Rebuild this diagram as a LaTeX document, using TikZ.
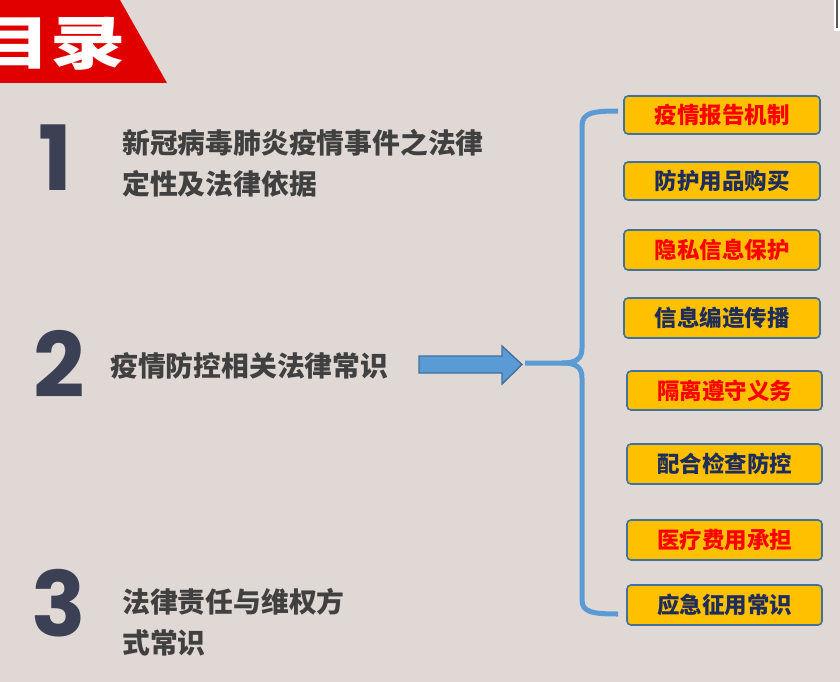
\documentclass[tikz,border=0pt]{standalone}
\usepackage{fontspec}
\setmainfont{Liberation Sans}
\newfontfamily\cjksans{Noto Sans CJK SC}
\newfontfamily\numfont{Poppins}
\definecolor{bgc}{HTML}{DFD8D5}
\definecolor{bannerred}{HTML}{E00000}
\definecolor{numc}{HTML}{3C4055}
\definecolor{txtc}{HTML}{404040}
\definecolor{boxfill}{HTML}{FFC000}
\definecolor{boxline}{HTML}{41719C}
\definecolor{bluec}{HTML}{5B9BD5}
\definecolor{navyc}{HTML}{1F2D5A}
\definecolor{redc}{HTML}{FF0000}
\tikzset{
  bignum/.style={inner sep=0pt, text=numc, font=\numfont\bfseries\fontsize{90}{90}\selectfont},
  headtxt/.style={inner sep=0pt, anchor=base west, text=txtc, font=\cjksans\bfseries\fontsize{27.8}{40}\selectfont},
  itembox/.style={draw=boxline, line width=1.6pt, fill=boxfill, rounded corners=4pt, minimum width=196pt, inner sep=0pt, font=\cjksans\bfseries\fontsize{22.5}{24}\selectfont},
  redtxt/.style={text=redc},
  navytxt/.style={text=navyc}
}
\begin{document}
\begin{tikzpicture}[x=1pt,y=-1pt]
\useasboundingbox (0,0) rectangle (840,682);
\fill[bgc] (0,0) rectangle (840,682);
% small artefact top right
\fill[white] (834,0) rectangle (840,31);
\fill[gray!70!black] (836,0) rectangle (837.5,28);
% title banner
\fill[bannerred] (0,0) -- (120,0) -- (167,83) -- (0,83) -- cycle;
\begin{scope}
\clip (0,0) -- (120,0) -- (167,83) -- (0,83) -- cycle;
\node[inner sep=0pt, text=white, font=\cjksans\bfseries\fontsize{58}{58}\selectfont, xscale=1.3] (title) at (51,44) {目录};
\end{scope}
% numbers
\node[bignum] (n1) at (55,158) {1};
\node[bignum] (n2) at (59,364) {2};
\node[bignum] (n3) at (59,603) {3};
% headings
\node[headtxt] (t1a) at (122,153.5) {新冠病毒肺炎疫情事件之法律};
\node[headtxt] (t1b) at (122,194) {定性及法律依据};
\node[headtxt] (t2) at (110,376) {疫情防控相关法律常识};
\node[headtxt] (t3a) at (122,612) {法律责任与维权方};
\node[headtxt] (t3b) at (122,653) {式常识};
% block arrow
\filldraw[fill=bluec, draw=boxline, line width=1.4pt, line join=miter]
  (419,356) -- (502,356) -- (502,346) -- (522,364.5) -- (502,384) -- (502,373) -- (419,373) -- cycle;
% brace
\coordinate (bt) at (618,111);
\coordinate (bm) at (525,363);
\coordinate (bb) at (618,614);
\draw[bluec, line width=5pt]
  (bt) .. controls (592,111) and (582,113) .. (582,126)
  -- (582,348) .. controls (582,359) and (576,363) .. (562,363) -- (bm);
\draw[bluec, line width=5pt]
  (562,363) .. controls (576,363) and (582,367) .. (582,378)
  -- (582,600) .. controls (582,612) and (592,614) .. (bb);
% boxes
\node[itembox, redtxt, minimum height=38pt] (b1) at (722,115) {疫情报告机制};
\node[itembox, navytxt, minimum height=38pt] (b2) at (722,181) {防护用品购买};
\node[itembox, redtxt, minimum height=40pt] (b3) at (722,250) {隐私信息保护};
\node[itembox, navytxt, minimum height=40pt] (b4) at (722,318) {信息编造传播};
\node[itembox, redtxt, minimum height=39pt, minimum width=195pt] (b5) at (724.5,390.5) {隔离遵守义务};
\node[itembox, navytxt, minimum height=40pt, minimum width=195pt] (b6) at (724.5,464) {配合检查防控};
\node[itembox, redtxt, minimum height=40pt, minimum width=195pt] (b7) at (724.5,540) {医疗费用承担};
\node[itembox, navytxt, minimum height=40pt, minimum width=195pt] (b8) at (724.5,605) {应急征用常识};
\end{tikzpicture}
\end{document}
